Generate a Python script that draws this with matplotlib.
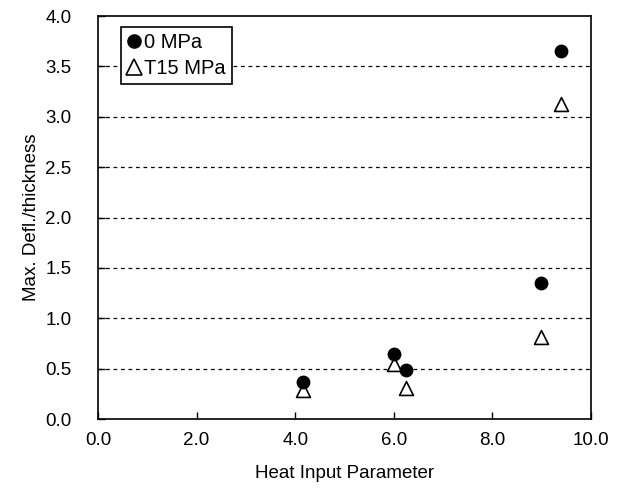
import matplotlib
matplotlib.use("Agg")
import matplotlib.pyplot as plt
from matplotlib.lines import Line2D

plt.rcParams['font.family'] = ['Liberation Sans', 'DejaVu Sans']

# data
x_0mpa = [4.15, 6.0, 6.25, 8.98, 9.39]
y_0mpa = [0.37, 0.65, 0.49, 1.35, 3.65]
x_t15 = [4.15, 6.0, 6.25, 8.98, 9.39]
y_t15 = [0.29, 0.55, 0.31, 0.81, 3.13]
labels = ['0 MPa', 'T15 MPa']
xticks = [0, 2, 4, 6, 8, 10]
yticks = [0, 0.5, 1.0, 1.5, 2.0, 2.5, 3.0, 3.5, 4.0]

fig = plt.figure(figsize=(6.17, 4.90), dpi=100)
ax = fig.add_axes([98/617, 1-419/490, (591-98)/617, (419-16)/490])

for yv in yticks[1:-1]:
    ax.axhline(yv, color='black', lw=0.9, ls=(0, (3, 3)), zorder=1)

ax.scatter(x_0mpa, y_0mpa, marker='o', s=80, color='black', zorder=3)
ax.scatter(x_t15, y_t15, marker='^', s=100, facecolor='white', edgecolor='black', lw=1.2, zorder=2)

ax.set_xlim(0, 10)
ax.set_ylim(0, 4.0)
ax.set_xticks(xticks)
ax.set_xticklabels([f'{v:.1f}' for v in xticks])
ax.set_yticks(yticks)
ax.set_yticklabels([f'{v:.1f}' for v in yticks])
ax.tick_params(direction='in', length=5, width=1, labelsize=13.5)
ax.tick_params(axis='y', pad=19)
ax.tick_params(axis='x', pad=9)
for s in ax.spines.values():
    s.set_linewidth(1.2)

ax.set_xlabel('Heat Input Parameter', fontsize=13.5, labelpad=12)
ax.set_ylabel('Max. Defl./thickness', fontsize=13.5, labelpad=4)

handles = [
    Line2D([], [], marker='o', ls='none', color='black', markersize=9.5),
    Line2D([], [], marker='^', ls='none', markerfacecolor='white', markeredgecolor='black', markersize=11, markeredgewidth=1.2),
]
leg = ax.legend(handles, labels, loc='upper left', bbox_to_anchor=((121-98)/493, 1-(27-16)/403),
                fontsize=14.5, frameon=True, fancybox=False, edgecolor='black', framealpha=1,
                handlelength=0.7, handletextpad=0.15, borderpad=0.3, labelspacing=0.35, borderaxespad=0)
leg.get_frame().set_linewidth(1.2)

fig.savefig('out.png', dpi=100)
